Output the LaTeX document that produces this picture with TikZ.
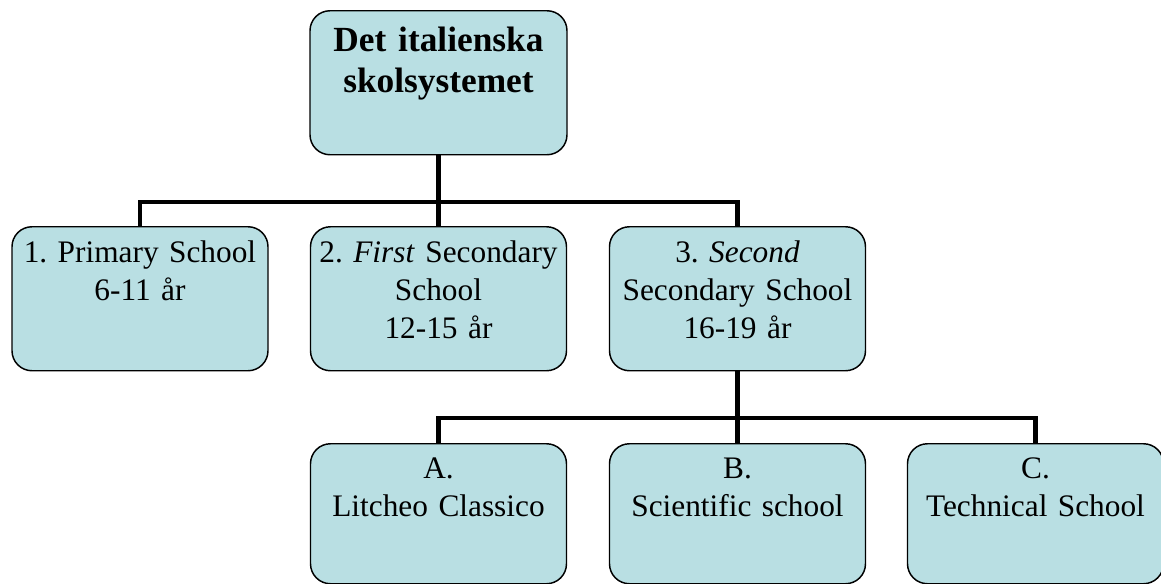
\documentclass[tikz,border=0pt]{standalone}
\usepackage{fontspec}
\setmainfont{Liberation Serif}
\frenchspacing
\definecolor{boxblue}{RGB}{185,223,227}
\tikzset{
  box/.style={draw=black, line width=1.1pt, fill=boxblue, rounded corners=15pt,
    anchor=north, text width=192pt, align=center, inner sep=0pt,
    text height=27pt, text depth=81pt, font=\fontsize{23.5}{28.5}\selectfont},
  headbox/.style={box, text width=192.75pt, text height=30.75pt, text depth=77.25pt,
    font=\fontsize{26.5}{30.75}\selectfont\bfseries},
  lowbox/.style={box, text height=26.25pt, text depth=78.75pt},
  link/.style={line width=3.3pt}
}
\begin{document}
\begin{tikzpicture}[x=0.75pt,y=-0.75pt]
\useasboundingbox (0,0) rectangle (1161,583);
\node[headbox] (top) at (438.5,10) {Det italienska\\skolsystemet};
\foreach \n/\x/\xtext in {p1/140/{1. Primary School\\6-11 år},
    p2/438.5/{2. \textit{First} Secondary\\School\\12-15 år},
    p3/737.5/{3. \textit{Second}\\Secondary School\\16-19 år}}
{
    \node[box] (\n) at (\x,226) {\xtext};
}
\foreach \n/\x/\xtext in {s1/438.5/{A.\\Litcheo Classico},
    s2/737.5/{B.\\Scientific school},
    s3/1035.5/{C.\\Technical School}}
{
    \node[lowbox] (\n) at (\x,443) {\xtext};
}
% bars between the rows
\coordinate (j1) at (438.5,202);
\coordinate (j2) at (737.5,418);
\draw[link] (top.south) -- (p2.north);
\draw[link] (p1.north) |- (j1) -| (p3.north);
\draw[link] (p3.south) -- (s2.north);
\draw[link] (s1.north) |- (j2) -| (s3.north);
\end{tikzpicture}
\end{document}
